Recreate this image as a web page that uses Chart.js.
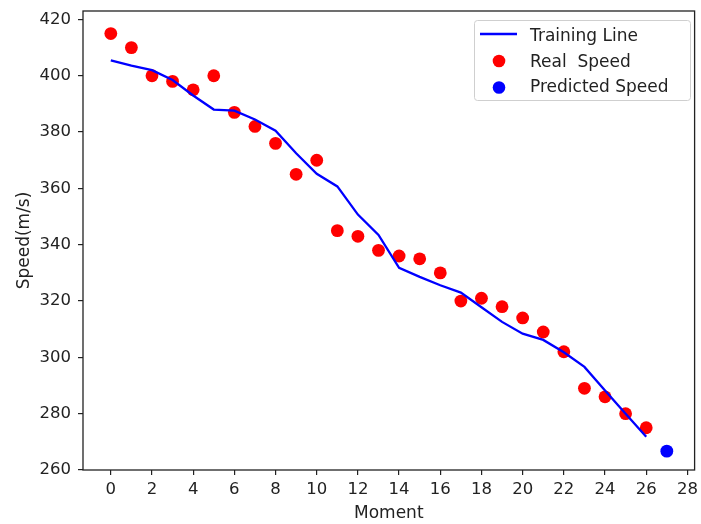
<!DOCTYPE html>
<html><head><meta charset="utf-8">
<script src="https://cdn.jsdelivr.net/npm/chart.js@4"></script>
<style>html,body{margin:0;padding:0;background:#fff;}canvas{display:block;}</style>
</head><body>
<canvas id="c" width="701" height="524"></canvas>
<script>
const moments = [0,1,2,3,4,5,6,7,8,9,10,11,12,13,14,15,16,17,18,19,20,21,22,23,24,25,26];
const realSpeed = [415,410,400,398,395,400,387,382,376,365,370,345,343,338,336,335,330,320,321,318,314,309,302,289,286,280,275];
const trainingLine = [405.5,403.6,402,398.5,393,388,387.6,384.5,380.5,372.5,365.2,360.7,350.7,343.5,331.8,328.6,325.6,323,317.8,312.6,308.4,306.2,301.8,296.6,288.2,280,271.8];
const predictedMoment = [27];
const predictedSpeed = [266.7];
const xTickValues = [0,2,4,6,8,10,12,14,16,18,20,22,24,26,28];
const yTickValues = [260,280,300,320,340,360,380,400,420];
const seriesLabels = ['Training Line','Real  Speed','Predicted Speed'];

const FONT = "'DejaVu Sans', sans-serif";
const INK = '#222';

const toPts = (xs, ys) => xs.map((x, i) => ({x: x, y: ys[i]}));

const decor = {
  id: 'decor',
  afterDatasetsDraw(chart) {
    const {ctx, chartArea: a} = chart;
    ctx.save();
    ctx.strokeStyle = INK;
    ctx.lineWidth = 1.3;
    ctx.strokeRect(a.left, a.top, a.right - a.left, a.bottom - a.top);
    ctx.restore();
  },
  afterDraw(chart) {
    const ctx = chart.ctx;
    const ds = chart.data.datasets;
    ctx.save();
    ctx.beginPath();
    ctx.roundRect(474.5, 20.5, 216, 80, 3);
    ctx.fillStyle = 'rgba(255,255,255,0.8)';
    ctx.fill();
    ctx.strokeStyle = '#cfcfcf';
    ctx.lineWidth = 1;
    ctx.stroke();
    ctx.beginPath();
    ctx.moveTo(480, 34);
    ctx.lineTo(517, 34);
    ctx.strokeStyle = ds[0].borderColor;
    ctx.lineWidth = 2.3;
    ctx.stroke();
    ctx.beginPath();
    ctx.arc(499, 61, 6.3, 0, Math.PI * 2);
    ctx.fillStyle = ds[1].backgroundColor;
    ctx.fill();
    ctx.beginPath();
    ctx.arc(499, 87.5, 6.3, 0, Math.PI * 2);
    ctx.fillStyle = ds[2].backgroundColor;
    ctx.fill();
    ctx.fillStyle = INK;
    ctx.font = '17px ' + FONT;
    ctx.textBaseline = 'alphabetic';
    ctx.textAlign = 'left';
    ctx.fillText(ds[0].label, 530, 40.7);
    ctx.fillText(ds[1].label, 530, 66.7);
    ctx.fillText(ds[2].label, 530, 91.7);
    ctx.restore();
  }
};

const zeroPad = s => { s.paddingTop = 0; s.paddingBottom = 0; s.paddingLeft = 0; s.paddingRight = 0; };

new Chart(document.getElementById('c'), {
  type: 'scatter',
  data: {
    datasets: [
      {
        label: seriesLabels[0],
        data: toPts(moments, trainingLine),
        showLine: true,
        borderColor: '#0000ff',
        backgroundColor: '#0000ff',
        borderWidth: 2.3,
        pointRadius: 0,
        tension: 0
      },
      {
        label: seriesLabels[1],
        data: toPts(moments, realSpeed),
        backgroundColor: '#ff0000',
        borderWidth: 0,
        pointRadius: 6.4
      },
      {
        label: seriesLabels[2],
        data: toPts(predictedMoment, predictedSpeed),
        backgroundColor: '#0000ff',
        borderWidth: 0,
        pointRadius: 6.4
      }
    ]
  },
  options: {
    responsive: false,
    animation: false,
    layout: {padding: {top: 11, right: 2, left: 0, bottom: 0}},
    plugins: {legend: {display: false}, tooltip: {enabled: false}},
    scales: {
      x: {
        type: 'linear',
        min: -1.35,
        max: 28.35,
        afterBuildTicks: s => { s.ticks = xTickValues.map(v => ({value: v})); },
        afterFit: s => { s.height = 54; zeroPad(s); },
        grid: {display: true, drawOnChartArea: false, drawTicks: true, tickLength: 5, color: INK, lineWidth: 1.2},
        border: {display: false},
        ticks: {font: {family: FONT, size: 16.5}, color: INK, padding: 5, maxRotation: 0, autoSkip: false},
        title: {display: true, text: 'Moment', font: {family: FONT, size: 17}, color: INK, padding: {top: 0, bottom: 0}}
      },
      y: {
        type: 'linear',
        min: 260,
        max: 423,
        afterBuildTicks: s => { s.ticks = yTickValues.map(v => ({value: v})); },
        afterFit: s => { s.width = 83; zeroPad(s); },
        grid: {display: true, drawOnChartArea: false, drawTicks: true, tickLength: 5, color: INK, lineWidth: 1.2},
        border: {display: false},
        ticks: {font: {family: FONT, size: 16.5}, color: INK, padding: 7, autoSkip: false},
        title: {display: true, text: 'Speed(m/s)', font: {family: FONT, size: 17}, color: INK, padding: {top: 14, bottom: 0}}
      }
    }
  },
  plugins: [decor]
});
</script>
</body></html>
